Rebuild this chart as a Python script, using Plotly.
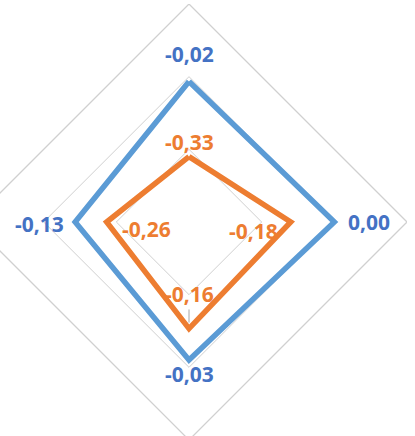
import plotly.graph_objects as go

# ---- data ----
categories = ["Cat 1", "Cat 2", "Cat 3", "Cat 4"]
blue_values = [-0.02, 0.00, -0.03, -0.13]
orange_values = [-0.33, -0.18, -0.16, -0.26]
radial_ticks = [-0.6, -0.3, 0.0, 0.3]

# ---- styles ----
BLUE = "#5B9BD5"
BLUE_TXT = "#4472C4"
ORANGE = "#ED7D31"
GRID = "#D0D0D0"
FONT = "Open Sans"
FSIZE = 21
SIZE = 436
# label offsets along each spoke (radial-axis units) and small vertical nudges (px)
BLUE_LABEL_SHIFT = [0.114, 0.143, 0.058, 0.149]
BLUE_LABEL_Y = [0, 0, 0, -2]
ORANGE_LABEL_SHIFT = [0.060, -0.152, -0.143, -0.163]
ORANGE_LABEL_Y = [0, -9, 0, -7]
LEADER = [False, False, True, False]   # Excel-style leader line for moved label
SPOKE_DIR = [(0, 1), (1, 0), (0, -1), (-1, 0)]  # clockwise from top


def fmt(v):
    return "<b>" + f"{v:.2f}".replace(".", ",") + "</b>"


def closed(lst):
    return list(lst) + [lst[0]]


def to_paper(r, i):
    lo, hi = radial_ticks[0], radial_ticks[-1]
    f = (r - lo) / (hi - lo) * 0.5
    dx, dy = SPOKE_DIR[i]
    return 0.5 + f * dx, 0.5 + f * dy


fig = go.Figure()
fig.add_trace(go.Scatterpolar(
    r=closed(blue_values), theta=closed(categories), mode="lines",
    line=dict(color=BLUE, width=5.5), hoverinfo="skip", showlegend=False,
))
fig.add_trace(go.Scatterpolar(
    r=closed(orange_values), theta=closed(categories), mode="lines",
    line=dict(color=ORANGE, width=5.5), hoverinfo="skip", showlegend=False,
))

for vals, shifts, ys, col, leaders in [
    (blue_values, BLUE_LABEL_SHIFT, BLUE_LABEL_Y, BLUE_TXT, [False] * 4),
    (orange_values, ORANGE_LABEL_SHIFT, ORANGE_LABEL_Y, ORANGE, LEADER),
]:
    for i, v in enumerate(vals):
        lx, ly = to_paper(v + shifts[i], i)
        if leaders[i]:
            px, py = to_paper(v, i)
            fig.add_annotation(
                x=px, y=py, xref="paper", yref="paper",
                ax=(lx - px) * SIZE, ay=-(ly - py) * SIZE,
                text=fmt(v), showarrow=True, arrowhead=0, arrowwidth=1,
                arrowcolor="#A6A6A6", standoff=6,
                font=dict(family=FONT, size=FSIZE, color=col),
            )
        else:
            fig.add_annotation(
                x=lx, y=ly, xref="paper", yref="paper", xanchor="center", yanchor="middle",
                yshift=ys[i], text=fmt(v), showarrow=False,
                font=dict(family=FONT, size=FSIZE, color=col),
            )

fig.update_layout(
    width=SIZE, height=SIZE,
    margin=dict(l=0, r=0, t=0, b=0),
    paper_bgcolor="white", plot_bgcolor="white",
    showlegend=False,
    polar=dict(
        domain=dict(x=[0, 1], y=[0, 1]),
        bgcolor="white",
        gridshape="linear",
        radialaxis=dict(
            range=[radial_ticks[0], radial_ticks[-1]],
            tickvals=radial_ticks,
            showticklabels=False, ticks="", showline=False,
            gridcolor=GRID, gridwidth=1.3,
        ),
        angularaxis=dict(
            type="category", rotation=90, direction="clockwise",
            showticklabels=False, ticks="", showgrid=False,
            showline=True, linecolor=GRID, linewidth=1.3,
        ),
    ),
)

post = (
    "var gd=document.getElementById('{plot_id}');"
    "document.body.style.margin='0';document.body.style.overflow='hidden';"
    "gd.style.position='relative';gd.style.left='-29px';gd.style.top='4px';"
)
fig.write_html("out.html", post_script=post)
